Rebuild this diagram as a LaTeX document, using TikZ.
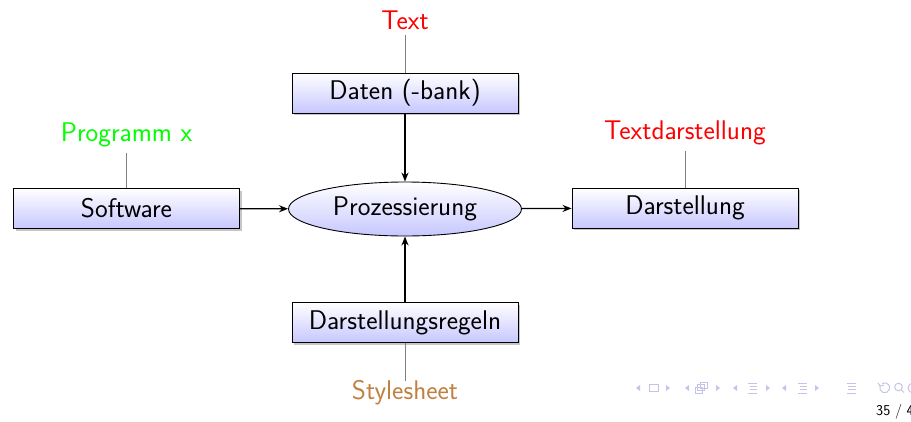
\documentclass[tikz,border=0pt]{standalone}
\usepackage{fontspec}
\setmainfont{Latin Modern Sans}
\usetikzlibrary{shapes.geometric,shadows,arrows.meta}
\definecolor{navcol}{RGB}{195,195,235}
\definecolor{stylebrown}{rgb}{0.75,0.5,0.25}
\tikzset{
  every node/.style={font=\fontsize{27}{32}\selectfont},
  stepbox/.style={draw, line width=0.9pt, minimum width=226pt, minimum height=40pt,
    inner sep=0pt, top color=white, bottom color=blue!22,
    drop shadow={shadow xshift=2pt, shadow yshift=-2pt, opacity=0.45}},
  procell/.style={ellipse, draw, line width=0.9pt, minimum width=233pt, minimum height=54pt,
    inner sep=0pt, top color=white, bottom color=blue!22},
  flow/.style={-{Stealth[length=9pt,width=7pt]}, line width=1.3pt},
  tag/.style={gray, line width=0.9pt},
  navsym/.style={fill=navcol, draw=none},
  navline/.style={draw=navcol, line width=1pt},
  pics/navleft/.style={code={\fill[navsym] (-2,0) -- (2,-3) -- (2,3) -- cycle;}},
  pics/navright/.style={code={\fill[navsym] (2,0) -- (-2,-3) -- (-2,3) -- cycle;}},
  pics/navlines/.style={code={\draw[navline] (-4.5,-5) -- (4.5,-5) (-3,-1.5) -- (4.5,-1.5)
      (-3,1.5) -- (4.5,1.5) (-4.5,5) -- (4.5,5);}},
}
\begin{document}
\begin{tikzpicture}[x=1pt,y=-1pt]
\useasboundingbox (0,0) rectangle (911,421);

% central process and its inputs/outputs
\node[procell] (proc) at (405,209) {Prozessierung};
\node[stepbox] (daten) at (405,93) {Daten (-bank)};
\node[stepbox] (soft) at (126.5,208.5) {Software};
\node[stepbox] (darst) at (685,208) {Darstellung};
\node[stepbox] (regeln) at (405,322.5) {Darstellungsregeln};

% annotations
\node[red] (ltext) at (405,20) {Text};
\node[green] (lprog) at (126.5,135) {Programm x};
\node[red] (ltd) at (685,133) {Textdarstellung};
\node[stylebrown] (lsty) at (405,393) {Stylesheet};

\draw[tag] (ltext.south) ++(0,2) -- (daten.north);
\draw[tag] (lprog.south) ++(0,2) -- (soft.north);
\draw[tag] (ltd.south) ++(0,2) -- (darst.north);
\draw[tag] (regeln.south) -- ([yshift=-4pt]lsty.north);

% data flow
\draw[flow] (daten) -- (proc);
\draw[flow] (soft) -- (proc);
\draw[flow] (proc) -- (darst);
\draw[flow] (regeln) -- (proc);

% navigation bar
\begin{scope}[shift={(0,388)}]
  % slide
  \pic at (638,0) {navleft};
  \draw[navline] (649,-3.5) rectangle (658,3.5);
  \pic at (668,0) {navright};
  % frame
  \pic at (687,0) {navleft};
  \draw[navline] (695,-1) rectangle (702,5);
  \draw[navline] (697.5,-3.5) rectangle (704.5,2.5);
  \draw[navline] (700,-6) rectangle (707,0);
  \pic at (718,0) {navright};
  % subsection
  \pic at (735,0) {navleft};
  \pic at (752.5,0) {navlines};
  \pic at (768,0) {navright};
  % section
  \pic at (784,0) {navleft};
  \pic at (802.5,0) {navlines};
  \pic at (817,0) {navright};
  % document
  \pic at (851,0) {navlines};
  % back, search, forward
  \draw[navline] (880,-2) arc (200:-120:5);
  \draw[navline] (878,-5) -- (880,-2) -- (884,-3);
  \draw[navline] (898.5,-1) circle (3.8);
  \draw[navline] (901,1.5) -- (904,4.5);
  \draw[navline] (913,0) circle (5);
\end{scope}
\node[font=\fontsize{15}{18}\selectfont, anchor=west, inner sep=0pt] (pageno) at (876,412) {35 / 4};
\end{tikzpicture}
\end{document}
